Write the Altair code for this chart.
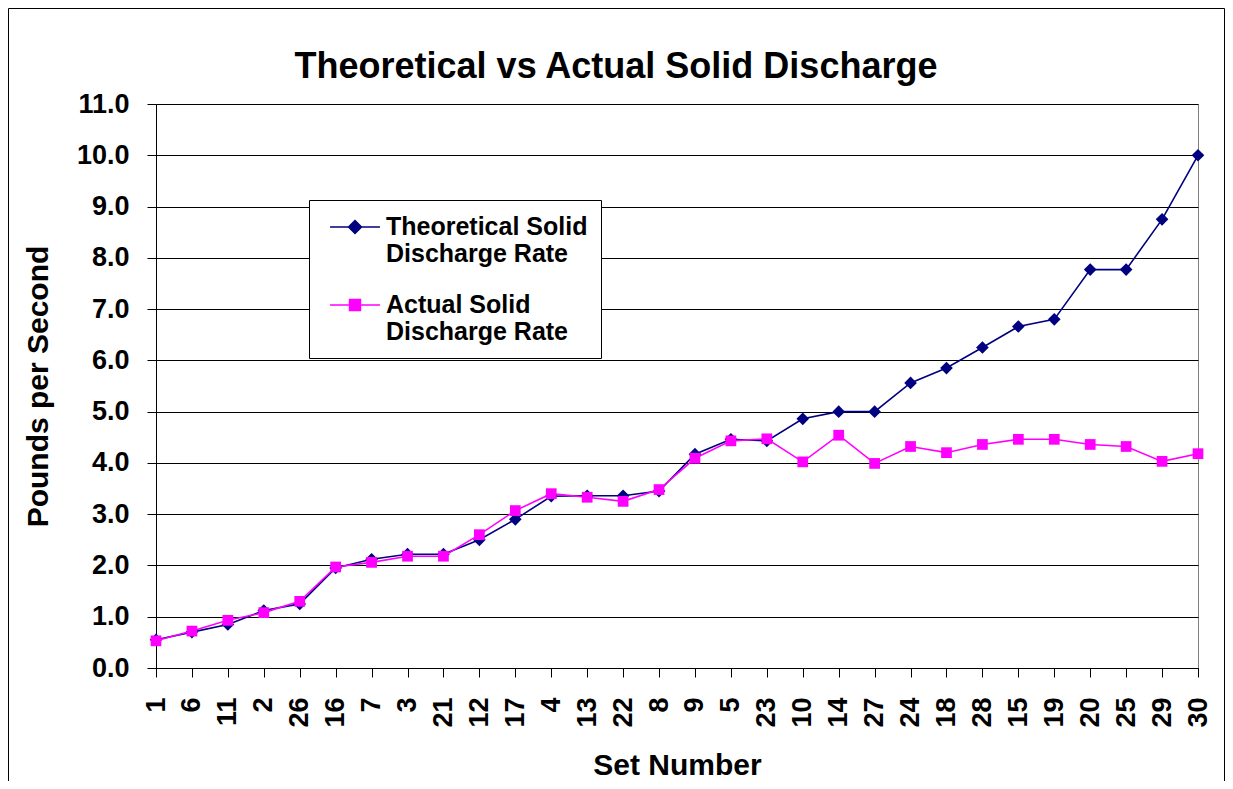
import altair as alt
import pandas as pd

# ---- data ----
sets = ["1", "6", "11", "2", "26", "16", "7", "3", "21", "12", "17", "4", "13", "22", "8",
        "9", "5", "23", "10", "14", "27", "24", "18", "28", "15", "19", "20", "25", "29", "30"]
theoretical = [0.55, 0.70, 0.85, 1.12, 1.25, 1.95, 2.12, 2.22, 2.22, 2.50, 2.90, 3.35, 3.36, 3.36, 3.45,
               4.17, 4.46, 4.43, 4.86, 5.00, 5.00, 5.56, 5.85, 6.25, 6.66, 6.80, 7.77, 7.77, 8.75, 10.00]
actual = [0.53, 0.72, 0.93, 1.08, 1.30, 1.97, 2.06, 2.18, 2.18, 2.60, 3.07, 3.40, 3.33, 3.25, 3.48,
          4.09, 4.43, 4.47, 4.02, 4.54, 3.99, 4.32, 4.20, 4.36, 4.46, 4.46, 4.36, 4.32, 4.03, 4.18]
series_names = ["Theoretical Solid Discharge Rate", "Actual Solid Discharge Rate"]
series_colors = ["#000080", "#FF00FF"]
y_ticks = [0, 1, 2, 3, 4, 5, 6, 7, 8, 9, 10, 11]

df = pd.DataFrame({"set": sets, "theoretical": theoretical, "actual": actual})

FONT = "Liberation Sans"

x_enc = alt.X(
    "set:N",
    sort=sets,
    scale=alt.Scale(type="point", padding=0),
    axis=alt.Axis(
        title="Set Number",
        labelAngle=-90,
        labelPadding=20,
        tickSize=9,
        grid=False,
        titleY=106,
        titleBaseline="alphabetic",
    ),
)


def y_enc(col):
    return alt.Y(
        f"{col}:Q",
        scale=alt.Scale(domain=[0, 11], nice=False, zero=True),
        axis=alt.Axis(
            title="Pounds per Second",
            values=y_ticks,
            format=".1f",
            tickSize=9,
            labelPadding=18,
            grid=True,
            titleX=-118,
            titleY=282,
            titleAngle=270,
            titleAlign="center",
            titleBaseline="middle",
        ),
    )


base = alt.Chart(df)

theo_line = base.mark_line(color=series_colors[0], strokeWidth=1.6).encode(x=x_enc, y=y_enc("theoretical"))
theo_pts = base.mark_point(shape="diamond", filled=True, opacity=1, size=160,
                           color=series_colors[0]).encode(x=x_enc, y=y_enc("theoretical"))
act_line = base.mark_line(color=series_colors[1], strokeWidth=1.6).encode(x=x_enc, y=y_enc("actual"))
act_pts = base.mark_point(shape="square", filled=True, opacity=1, size=115,
                          color=series_colors[1]).encode(x=x_enc, y=y_enc("actual"))

# legend-only layer (no rows): symbols are a line segment with the series marker
legend_paths = [
    "M-1.92,0L1.92,0M0,-0.5L0.5,0L0,0.5L-0.5,0Z",
    "M-1.92,0L1.92,0M-0.42,-0.42L0.42,-0.42L0.42,0.42L-0.42,0.42Z",
]
leg = alt.Legend(
    title=None,
    orient="none",
    legendX=153,
    legendY=96,
    labelExpr="datum.label == 'Theoretical Solid Discharge Rate' ? ['Theoretical Solid', 'Discharge Rate'] : ['Actual Solid', 'Discharge Rate']",
)
legend_layer = alt.Chart(alt.Data(values=[])).mark_point(filled=True, opacity=1, strokeWidth=1.5).encode(
    color=alt.Color("series:N", scale=alt.Scale(domain=series_names, range=series_colors), legend=leg),
    stroke=alt.Stroke("series:N", scale=alt.Scale(domain=series_names, range=series_colors), legend=leg),
    shape=alt.Shape("series:N", scale=alt.Scale(domain=series_names, range=legend_paths), legend=leg),
)

# outer frame of the chart
frame = alt.Chart(alt.Data(values=[{}])).mark_rect(fillOpacity=0, stroke="black", strokeWidth=1).encode(
    x=alt.value(-147.5), x2=alt.value(1068.5), y=alt.value(-95.5), y2=alt.value(700)
)

chart = alt.layer(theo_line, theo_pts, act_line, act_pts, legend_layer, frame).properties(
    width=1042,
    height=564,
    padding={"left": 148, "top": 96, "right": 27, "bottom": 113},
    autosize=alt.AutoSizeParams(type="none"),
    background="white",
    title=alt.Title(
        "Theoretical vs Actual Solid Discharge",
        font=FONT,
        fontSize=36,
        fontWeight="bold",
        color="black",
        anchor="middle",
        dx=-61,
        dy=106,
        offset=0,
        baseline="alphabetic",
    ),
).configure_view(
    fill="#C0C0C0", stroke="#808080", strokeWidth=1
).configure_axis(
    domainColor="black",
    domainWidth=1,
    tickColor="black",
    tickWidth=1,
    gridColor="black",
    gridWidth=1,
    gridOpacity=1,
    labelFont=FONT,
    labelFontSize=27,
    labelFontWeight="bold",
    labelColor="black",
    titleFont=FONT,
    titleFontSize=30,
    titleFontWeight="bold",
    titleColor="black",
).configure_legend(
    fillColor="white",
    strokeColor="black",
    strokeWidth=1,
    padding=13,
    symbolOffset=19,
    symbolSize=676,
    symbolStrokeWidth=1.5,
    labelFont=FONT,
    labelFontSize=25,
    labelFontWeight="bold",
    labelColor="black",
    labelLimit=400,
    labelOffset=17,
    rowPadding=24,
)

chart.save("out.html", embed_options={"renderer": "svg", "actions": False})
